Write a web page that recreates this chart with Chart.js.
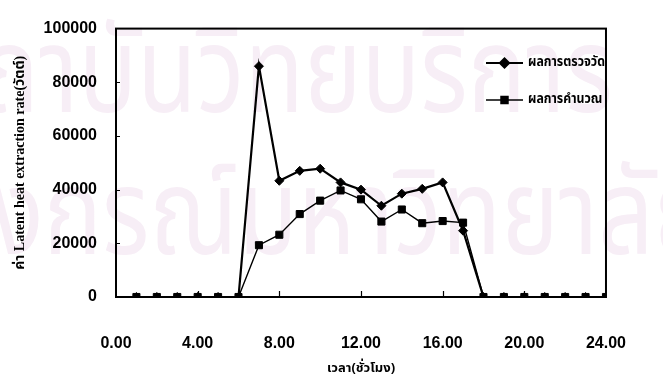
<!DOCTYPE html>
<html><head><meta charset="utf-8">
<script src="https://cdn.jsdelivr.net/npm/chart.js@4"></script>
<style>html,body{margin:0;padding:0;background:#fff}#wrap{width:663px;height:379px}</style>
</head><body><div id="wrap"><canvas id="c" width="663" height="379"></canvas></div>
<script>
const hours = [1,2,3,4,5,6,7,8,9,10,11,12,13,14,15,16,17,18,19,20,21,22,23,24];
const measured = [0,0,0,0,0,0,86000,43300,47000,47800,42700,40000,34000,38500,40300,42700,24700,0,0,0,0,0,0,0];
const calculated = [0,0,0,0,0,0,19300,23200,30900,35900,39700,36400,28100,32600,27500,28300,27700,0,0,0,0,0,0,0];
const seriesNames = ['ผลการตรวจวัด','ผลการคำนวณ'];
const xTickLabels = ['0.00','4.00','8.00','12.00','16.00','20.00','24.00'];
const yTickLabels = ['0','20000','40000','60000','80000','100000'];
const xTitle = 'เวลา(ชั่วโมง)';
const yTitle = 'ค่า Latent heat extraction rate(วัตต์)';
const watermark = ['สถาบันวิทยบริการ','จุฬาลงกรณ์มหาวิทยาลัย'];

const toPts = (ys) => hours.map((h,i)=>({x:h,y:ys[i]}));

const framePlugin = {
  id:'frame',
  beforeDraw(chart){
    const ctx = chart.ctx;
    ctx.save();
    ctx.fillStyle = '#f7eef6';
    ctx.font = '120px "Noto Sans Thai", "Noto Sans", sans-serif';
    ctx.textBaseline = 'alphabetic';
    const sx = 0.81;
    ctx.scale(sx, 1);
    ctx.fillText(watermark[0], -75/sx, 112);
    ctx.fillText(watermark[1], -220/sx, 254);
    ctx.restore();
  },
  afterDatasetsDraw(chart){
    const {ctx, chartArea:a, scales:{x,y}} = chart;
    ctx.save();
    ctx.strokeStyle = '#000';
    ctx.lineWidth = 2;
    ctx.strokeRect(a.left, a.top, a.right-a.left, a.bottom-a.top);
    ctx.lineWidth = 1.2;
    ctx.beginPath();
    for (let v=20000; v<100000; v+=20000){
      const py = Math.round(y.getPixelForValue(v))+0.5;
      ctx.moveTo(a.left, py); ctx.lineTo(a.left+4, py);
    }
    for (let v=4; v<24; v+=4){
      const px = Math.round(x.getPixelForValue(v))+0.5;
      ctx.moveTo(px, a.bottom); ctx.lineTo(px, a.bottom-6);
    }
    ctx.stroke();
    // legend
    const items = chart.data.datasets;
    const lx0 = 486, lx1 = 523, tx = 528;
    const rows = [63, 100];
    items.forEach((ds,i)=>{
      const yy = rows[i];
      ctx.strokeStyle = '#000';
      ctx.lineWidth = ds.borderWidth;
      ctx.beginPath(); ctx.moveTo(lx0,yy); ctx.lineTo(lx1,yy); ctx.stroke();
      Chart.helpers.drawPoint(ctx, {pointStyle: ds.pointStyle, radius: ds.pointRadius, borderWidth:1, rotation:0}, (lx0+lx1)/2, yy);
      ctx.fillStyle = '#000';
      ctx.font = 'bold 14px "Noto Sans Thai", "Liberation Sans", sans-serif';
      ctx.textBaseline = 'middle';
      ctx.textAlign = 'left';
      ctx.save();
      ctx.scale(0.88, 1);
      ctx.fillText(ds.label, tx/0.88, yy);
      ctx.restore();
    });
    ctx.restore();
  }
};

new Chart(document.getElementById('c'), {
  type:'line',
  data:{ datasets:[
    {label:seriesNames[0], data:toPts(measured), borderColor:'#000', backgroundColor:'#000', borderWidth:2.2, pointStyle:'rectRot', pointRadius:4.5, pointBorderWidth:1, pointBackgroundColor:'#000', pointBorderColor:'#000'},
    {label:seriesNames[1], data:toPts(calculated), borderColor:'#000', backgroundColor:'#000', borderWidth:1.4, pointStyle:'rect', pointRadius:5, pointBorderWidth:1, pointBackgroundColor:'#000', pointBorderColor:'#000'}
  ]},
  options:{
    responsive:false, animation:false, devicePixelRatio:1,
    layout:{padding:{top:15, right:23, left:0, bottom:0}},
    plugins:{legend:{display:false}, tooltip:{enabled:false}},
    scales:{
      x:{type:'linear', min:0, max:24,
        afterFit(s){ s.height = 82; },
        ticks:{stepSize:4, padding:37, color:'#000', font:{family:'"Liberation Sans", Arial, sans-serif', weight:'bold', size:16}, maxRotation:0,
          callback:(v)=> xTickLabels[v/4]},
        grid:{display:false, drawTicks:false},
        border:{display:true, color:'#000', width:2},
        title:{display:true, text:xTitle, color:'#000', font:{family:'"Noto Sans Thai", "Liberation Sans", sans-serif', weight:'bold', size:13}, padding:{top:0,bottom:2}}
      },
      y:{min:0, max:100000,
        afterFit(s){ s.width = 116; },
        ticks:{stepSize:20000, padding:19, color:'#000', font:{family:'"Liberation Sans", Arial, sans-serif', weight:'bold', size:16},
          callback:(v)=> yTickLabels[v/20000]},
        grid:{display:false, drawTicks:false},
        border:{display:true, color:'#000', width:2},
        title:{display:true, text:yTitle, color:'#000', font:{family:'"Liberation Serif", "Noto Sans Thai", serif', weight:'bold', size:14}, padding:{top:12,bottom:0}}
      }
    }
  },
  plugins:[framePlugin]
});
</script></body></html>
